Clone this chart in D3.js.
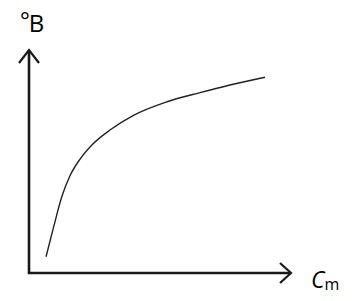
<!DOCTYPE html>
<html><head><meta charset="utf-8">
<script src="https://cdn.jsdelivr.net/npm/d3@7"></script>
<style>html,body{margin:0;padding:0;background:#fff;}svg{display:block;}</style>
</head><body>
<div id="chart"></div>
<script>
// Concentration (x) vs B (y), arbitrary units
const concentration = [0.065, 0.095, 0.126, 0.156, 0.195, 0.240, 0.309, 0.397, 0.527, 0.653, 0.767, 0.901];
const bValue        = [0.073, 0.211, 0.345, 0.435, 0.511, 0.574, 0.641, 0.706, 0.768, 0.809, 0.843, 0.878];
const xLabel = "C";
const xLabelSub = "m";
const yLabelDeg = "°";
const yLabel = "B";

const W = 357, H = 301;
const x0 = 29, x1 = 291, y0 = 273, y1 = 50;
const x = d3.scaleLinear().domain([0, 1]).range([x0, x1]);
const y = d3.scaleLinear().domain([0, 1]).range([y0, y1]);

const svg = d3.select("#chart").append("svg").attr("width", W).attr("height", H);

const axisColor = "#1a1a1a";
svg.append("path")
  .attr("d", `M${x0},${y1}L${x0},${y0}L${x1},${y0}`)
  .attr("fill", "none").attr("stroke", axisColor).attr("stroke-width", 2.6)
  .attr("stroke-linejoin", "miter");
svg.append("path")
  .attr("d", `M${x0-10},${y1+13}L${x0},${y1}L${x0+10},${y1+13}`)
  .attr("fill", "none").attr("stroke", axisColor).attr("stroke-width", 2.2);
svg.append("path")
  .attr("d", `M${x1-11},${y0-10}L${x1},${y0}L${x1-11},${y0+10}`)
  .attr("fill", "none").attr("stroke", axisColor).attr("stroke-width", 2.2);

const pts = concentration.map((c, i) => [c, bValue[i]]);
svg.append("path")
  .datum(pts)
  .attr("d", d3.line().x(d => x(d[0])).y(d => y(d[1])).curve(d3.curveMonotoneX))
  .attr("fill", "none").attr("stroke", "#222").attr("stroke-width", 1.4);

const yl = svg.append("text").attr("x", 20).attr("y", 29)
  .attr("font-family", "'Open Sans', sans-serif").attr("fill", "#000");
yl.append("tspan").attr("font-size", 23).text(yLabelDeg);
yl.append("tspan").attr("font-size", 24).attr("font-weight", 500).attr("dx", -1).attr("dy", 3).text(yLabel);

const t = svg.append("text").attr("x", 311).attr("y", 288)
  .attr("font-family", "'Open Sans', sans-serif").attr("fill", "#000");
t.append("tspan").attr("font-size", 23).attr("font-style", "italic").attr("font-weight", 500).text(xLabel);
t.append("tspan").attr("font-size", 16).attr("dx", 0).attr("dy", 2).text(xLabelSub);
</script>
</body></html>
